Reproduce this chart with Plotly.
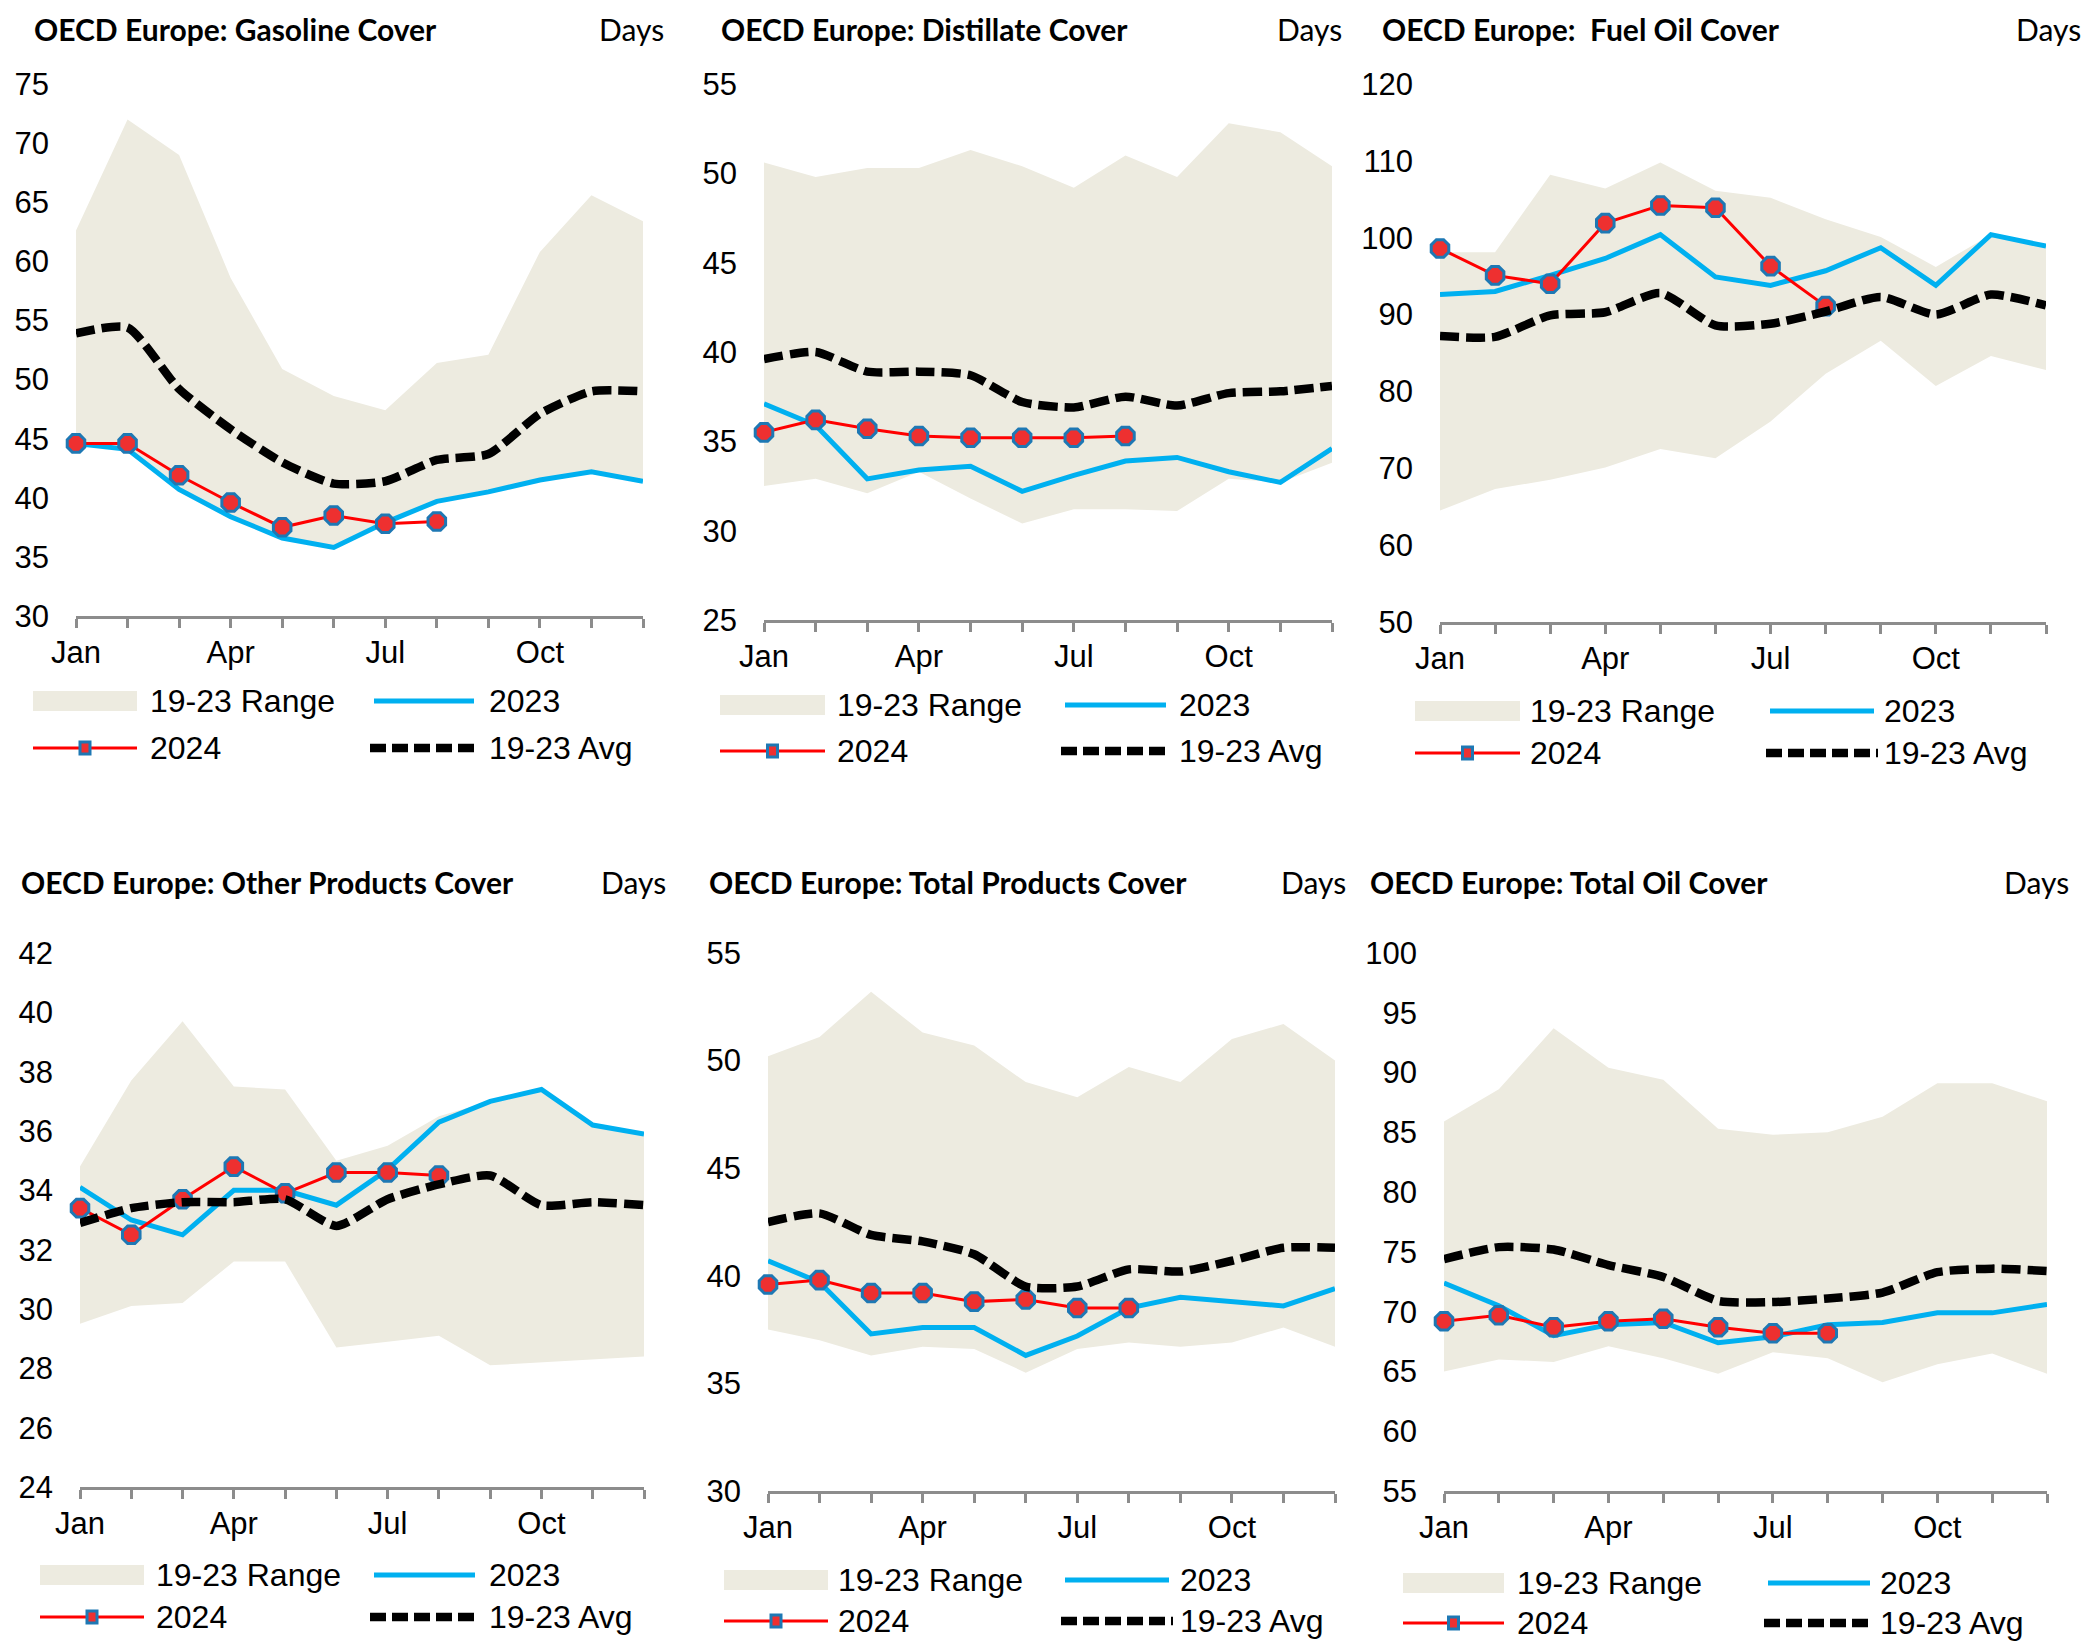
import plotly.graph_objects as go

W, H = 2087, 1643

months = ["Jan", "Feb", "Mar", "Apr", "May", "Jun", "Jul", "Aug", "Sep", "Oct", "Nov", "Dec"]
month_labels = ["Jan", "", "", "Apr", "", "", "Jul", "", "", "Oct", "", ""]
months_2024 = months[:8]

# ---- Gasoline ----
gas_hi = [62.6, 72.0, 69.0, 58.6, 50.9, 48.6, 47.4, 51.4, 52.1, 60.8, 65.6, 63.4]
gas_lo = [44.6, 44.1, 40.7, 38.4, 36.6, 35.8, 37.9, 39.7, 40.5, 41.5, 42.2, 41.4]
gas_2023 = [44.6, 44.1, 40.7, 38.4, 36.6, 35.8, 37.9, 39.7, 40.5, 41.5, 42.2, 41.4]
gas_2024 = [44.6, 44.6, 41.9, 39.6, 37.5, 38.5, 37.8, 38.0]
gas_avg = [53.9, 54.4, 49.2, 45.8, 43.0, 41.2, 41.4, 43.2, 43.7, 47.1, 49.0, 49.0]
gas_ticks = [30, 35, 40, 45, 50, 55, 60, 65, 70, 75]

# ---- Distillate ----
dist_hi = [50.6, 49.8, 50.3, 50.3, 51.3, 50.4, 49.2, 51.0, 49.8, 52.8, 52.3, 50.4]
dist_lo = [32.5, 32.9, 32.1, 33.3, 31.8, 30.4, 31.2, 31.2, 31.1, 32.9, 32.7, 33.8]
dist_2023 = [37.1, 35.9, 32.9, 33.4, 33.6, 32.2, 33.1, 33.9, 34.1, 33.3, 32.7, 34.6]
dist_2024 = [35.5, 36.2, 35.7, 35.3, 35.2, 35.2, 35.2, 35.3]
dist_avg = [39.6, 40.0, 38.9, 38.9, 38.7, 37.2, 36.9, 37.5, 37.0, 37.7, 37.8, 38.1]
dist_ticks = [25, 30, 35, 40, 45, 50, 55]

# ---- Fuel oil ----
fo_hi = [98.1, 98.1, 108.2, 106.4, 109.8, 106.1, 105.2, 102.4, 100.1, 96.2, 100.4, 99.1]
fo_lo = [64.5, 67.3, 68.5, 70.1, 72.5, 71.3, 76.1, 82.3, 86.6, 80.7, 84.6, 82.8]
fo_2023 = [92.6, 93.0, 95.1, 97.3, 100.4, 94.9, 93.8, 95.7, 98.7, 93.8, 100.4, 98.9]
fo_2024 = [98.6, 95.1, 94.0, 101.9, 104.2, 103.9, 96.3, 91.1]
fo_avg = [87.2, 87.1, 89.9, 90.3, 92.8, 88.6, 88.8, 90.4, 92.3, 90.0, 92.6, 91.2]
fo_ticks = [50, 60, 70, 80, 90, 100, 110, 120]

# ---- Other products ----
oth_hi = [34.8, 37.7, 39.7, 37.5, 37.4, 35.0, 35.5, 36.5, 37.0, 37.4, 36.2, 35.9]
oth_lo = [29.5, 30.1, 30.2, 31.6, 31.6, 28.7, 28.9, 29.1, 28.1, 28.2, 28.3, 28.4]
oth_2023 = [34.1, 33.0, 32.5, 34.0, 34.0, 33.5, 34.7, 36.3, 37.0, 37.4, 36.2, 35.9]
oth_2024 = [33.4, 32.5, 33.7, 34.8, 33.9, 34.6, 34.6, 34.5]
oth_avg = [32.9, 33.4, 33.6, 33.6, 33.7, 32.8, 33.7, 34.2, 34.5, 33.5, 33.6, 33.5]
oth_ticks = [24, 26, 28, 30, 32, 34, 36, 38, 40, 42]

# ---- Total products ----
tp_hi = [50.2, 51.1, 53.2, 51.3, 50.7, 49.0, 48.3, 49.7, 49.0, 51.0, 51.7, 50.0]
tp_lo = [37.5, 37.0, 36.3, 36.7, 36.6, 35.5, 36.6, 36.9, 36.7, 36.9, 37.6, 36.7]
tp_2023 = [40.7, 39.7, 37.3, 37.6, 37.6, 36.3, 37.2, 38.5, 39.0, 38.8, 38.6, 39.4]
tp_2024 = [39.6, 39.8, 39.2, 39.2, 38.8, 38.9, 38.5, 38.5]
tp_avg = [42.5, 42.9, 41.9, 41.6, 41.0, 39.5, 39.5, 40.3, 40.2, 40.7, 41.3, 41.3]
tp_ticks = [30, 35, 40, 45, 50, 55]

# ---- Total oil ----
to_hi = [85.9, 88.6, 93.7, 90.4, 89.4, 85.3, 84.8, 85.0, 86.3, 89.1, 89.1, 87.6]
to_lo = [65.0, 66.0, 65.8, 67.1, 66.1, 64.8, 66.6, 66.1, 64.1, 65.6, 66.5, 64.8]
to_2023 = [72.4, 70.5, 68.0, 68.9, 69.1, 67.4, 67.9, 68.9, 69.1, 69.9, 69.9, 70.6]
to_2024 = [69.2, 69.7, 68.7, 69.2, 69.4, 68.7, 68.2, 68.2]
to_avg = [74.4, 75.4, 75.2, 73.9, 72.9, 70.9, 70.8, 71.1, 71.6, 73.3, 73.6, 73.4]
to_ticks = [55, 60, 65, 70, 75, 80, 85, 90, 95, 100]

titles = [
    "OECD Europe: Gasoline Cover",
    "OECD Europe: Distillate Cover",
    "OECD Europe:  Fuel Oil Cover",
    "OECD Europe: Other Products Cover",
    "OECD Europe: Total Products Cover",
    "OECD Europe: Total Oil Cover",
]
unit_label = "Days"
legend_names = ["19-23 Range", "2023", "2024", "19-23 Avg"]

series = [
    (gas_hi, gas_lo, gas_2023, gas_2024, gas_avg, gas_ticks),
    (dist_hi, dist_lo, dist_2023, dist_2024, dist_avg, dist_ticks),
    (fo_hi, fo_lo, fo_2023, fo_2024, fo_avg, fo_ticks),
    (oth_hi, oth_lo, oth_2023, oth_2024, oth_avg, oth_ticks),
    (tp_hi, tp_lo, tp_2023, tp_2024, tp_avg, tp_ticks),
    (to_hi, to_lo, to_2023, to_2024, to_avg, to_ticks),
]

# ---- geometry in pixels (style, not data) ----
geom = [
    (76, 643, 84, 616),
    (764, 1332, 84, 620),
    (1440, 2046, 84, 622),
    (80, 644, 953, 1487),
    (768, 1335, 953, 1491),
    (1444, 2047, 953, 1491),
]
title_pos = [
    (32, 29, 666),
    (719, 29, 1344),
    (1380, 29, 2083),
    (19, 882, 668),
    (707, 882, 1348),
    (1368, 882, 2071),
]
leg_pos = [
    (701, 748, 33, 137, 148, 374, 474, 487),
    (705, 751, 720, 825, 835, 1065, 1166, 1177),
    (711, 753, 1415, 1520, 1528, 1770, 1874, 1882),
    (1575, 1617, 40, 144, 154, 374, 475, 487),
    (1580, 1621, 724, 828, 836, 1065, 1169, 1178),
    (1583, 1623, 1403, 1504, 1515, 1768, 1870, 1878),
]

RANGE_COL = "#EDEBE0"
C2023 = "#00B0F0"
C2024 = "#FF0000"
MK_FILL = "#EE3030"
MK_LINE = "#1E78B4"
AXIS_COL = "#8C8C8C"
TICK_FONT = dict(family="Liberation Sans, Arial, sans-serif", size=31, color="#000000")
LEG_FONT = dict(family="Liberation Sans, Arial, sans-serif", size=32, color="#000000")
TITLE_FONT = dict(family="Lato, sans-serif", size=30, color="#000000", weight="bold")
DAYS_FONT = dict(family="Lato, sans-serif", size=30, color="#000000")

fig = go.Figure()
shapes = []
annotations = []
layout = {}

for i, ((hi, lo, y23, y24, avg, ticks), (x0, x1, yt, yb)) in enumerate(zip(series, geom)):
    n = i + 1
    xa = "x" if n == 1 else f"x{n}"
    ya = "y" if n == 1 else f"y{n}"
    xkey = "xaxis" if n == 1 else f"xaxis{n}"
    ykey = "yaxis" if n == 1 else f"yaxis{n}"

    fig.add_trace(go.Scatter(x=months, y=lo, xaxis=xa, yaxis=ya, mode="lines",
                             line=dict(width=0, color=RANGE_COL), showlegend=False,
                             hoverinfo="skip"))
    fig.add_trace(go.Scatter(x=months, y=hi, xaxis=xa, yaxis=ya, mode="lines",
                             line=dict(width=0, color=RANGE_COL), fill="tonexty",
                             fillcolor=RANGE_COL, showlegend=False, name=legend_names[0]))
    fig.add_trace(go.Scatter(x=months, y=y23, xaxis=xa, yaxis=ya, mode="lines",
                             line=dict(width=5, color=C2023), showlegend=False,
                             name=legend_names[1]))
    fig.add_trace(go.Scatter(x=months_2024, y=y24, xaxis=xa, yaxis=ya, mode="lines+markers",
                             line=dict(width=3, color=C2024),
                             marker=dict(symbol="octagon", size=19, color=MK_FILL,
                                         line=dict(width=3, color=MK_LINE)),
                             cliponaxis=False, showlegend=False, name=legend_names[2]))
    fig.add_trace(go.Scatter(x=months, y=avg, xaxis=xa, yaxis=ya, mode="lines",
                             line=dict(width=8.5, color="#000000", dash="19px,7px",
                                       shape="spline", smoothing=0.6),
                             showlegend=False, name=legend_names[3]))

    layout[xkey] = dict(
        domain=[x0 / W, x1 / W], anchor=ya, type="category", automargin=False,
        categoryorder="array", categoryarray=months,
        range=[0, 11], tickmode="array", tickvals=months, ticktext=month_labels,
        showline=True, linecolor=AXIS_COL, linewidth=3,
        ticks="outside", ticklen=9, tickwidth=3, tickcolor=AXIS_COL,
        showgrid=False, zeroline=False, tickfont=TICK_FONT, ticklabelstandoff=-2,
    )
    layout[ykey] = dict(
        domain=[1 - yb / H, 1 - yt / H], anchor=xa, automargin=False,
        range=[ticks[0], ticks[-1]], tickmode="array", tickvals=ticks,
        showline=False, showgrid=False, zeroline=False, ticks="",
        tickfont=TICK_FONT, ticklabelstandoff=26,
    )

    tx, ty, dx = title_pos[i]
    annotations.append(dict(text=titles[i], x=tx / W, y=1 - ty / H, xref="paper", yref="paper",
                            xanchor="left", yanchor="middle", showarrow=False, font=TITLE_FONT))
    annotations.append(dict(text=unit_label, x=dx / W, y=1 - ty / H, xref="paper", yref="paper",
                            xanchor="right", yanchor="middle", showarrow=False, font=DAYS_FONT))

    r1, r2, s1a, s1b, t1, s2a, s2b, t2 = leg_pos[i]
    py = lambda p: 1 - p / H
    px = lambda p: p / W
    shapes.append(dict(type="rect", xref="paper", yref="paper",
                       x0=px(s1a), x1=px(s1b), y0=py(r1 + 10), y1=py(r1 - 10),
                       fillcolor=RANGE_COL, line=dict(width=0)))
    shapes.append(dict(type="line", xref="paper", yref="paper",
                       x0=px(s2a), x1=px(s2b), y0=py(r1), y1=py(r1),
                       line=dict(color=C2023, width=5)))
    shapes.append(dict(type="line", xref="paper", yref="paper",
                       x0=px(s1a), x1=px(s1b), y0=py(r2), y1=py(r2),
                       line=dict(color=C2024, width=3)))
    mx = (s1a + s1b) / 2
    shapes.append(dict(type="rect", xref="paper", yref="paper",
                       x0=px(mx - 5), x1=px(mx + 5), y0=py(r2 + 6), y1=py(r2 - 6),
                       fillcolor=MK_FILL, line=dict(color=MK_LINE, width=3)))
    shapes.append(dict(type="line", xref="paper", yref="paper",
                       x0=px(s2a - 4), x1=px(s2b + 4), y0=py(r2), y1=py(r2),
                       line=dict(color="#000000", width=8.5, dash="16px,6px")))
    for txt, xx, yy in [(legend_names[0], t1, r1), (legend_names[1], t2, r1),
                        (legend_names[2], t1, r2), (legend_names[3], t2, r2)]:
        annotations.append(dict(text=txt, x=px(xx), y=py(yy), xref="paper", yref="paper",
                                xanchor="left", yanchor="middle", showarrow=False, font=LEG_FONT))

fig.update_layout(
    template="none",
    width=W, height=H, margin=dict(l=0, r=0, t=0, b=0, autoexpand=False),
    paper_bgcolor="#FFFFFF", plot_bgcolor="rgba(0,0,0,0)",
    showlegend=False, shapes=shapes, annotations=annotations,
    **layout,
)

fig.write_html(
    "out.html",
    config={"displayModeBar": False},
    post_script="document.body.style.margin='0';document.body.style.padding='0';"
                "document.body.style.overflow='hidden';",
)
